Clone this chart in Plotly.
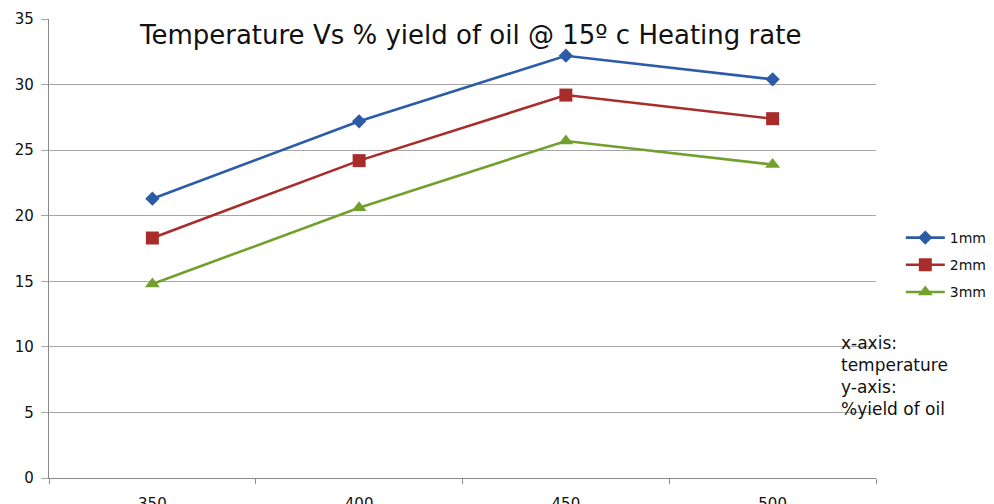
import plotly.graph_objects as go

temps = ["350", "400", "450", "500"]
yield_1mm = [21.3, 27.2, 32.2, 30.4]
yield_2mm = [18.3, 24.2, 29.2, 27.4]
yield_3mm = [14.8, 20.6, 25.7, 23.9]
series_names = ["1mm", "2mm", "3mm"]
y_ticks = [0, 5, 10, 15, 20, 25, 30, 35]

colors = ["#2C5BA8", "#A82C2A", "#72A02E"]
symbols = ["diamond", "square", "triangle-up"]
sizes = [11, 13, 13]

FONT = "DejaVu Sans"

fig = go.Figure()
for name, vals, c, s, sz in zip(series_names, [yield_1mm, yield_2mm, yield_3mm], colors, symbols, sizes):
    fig.add_trace(go.Scatter(
        x=temps, y=vals, name=name, mode="lines+markers",
        line=dict(color=c, width=2.6),
        marker=dict(symbol=s, size=sz, color=c),
        legendgroup=name,
    ))

fig.update_layout(
    width=994, height=504,
    margin=dict(l=49, r=118, t=19, b=26, autoexpand=False),
    paper_bgcolor="white", plot_bgcolor="white",
    font=dict(family=FONT, size=15, color="#111111"),
    title=dict(text="Temperature Vs % yield of oil @ 15º c Heating rate",
               x=0.4735, xanchor="center", y=1 - 35 / 504, yanchor="middle",
               font=dict(family=FONT, size=26, color="#111111")),
    showlegend=True,
    legend=dict(x=1.03, xanchor="left", y=(478 - 222) / 459, yanchor="top",
                yref="paper", font=dict(size=14), tracegroupgap=6,
                bgcolor="rgba(0,0,0,0)", itemwidth=39),
    xaxis=dict(type="category", showgrid=False, showline=True, linecolor="#8a8a8a",
               linewidth=1.3, ticks="outside", tickson="boundaries", ticklen=5,
               tickcolor="#8a8a8a", ticklabelstandoff=12, range=[-0.5, 3.5],
               tickfont=dict(size=15), automargin=False),
    yaxis=dict(range=[0, 35], tickvals=y_ticks, showgrid=True, gridcolor="#a6a6a6",
               gridwidth=1.3, showline=True, linecolor="#8a8a8a", linewidth=1.3,
               ticks="outside", ticklen=7, tickcolor="#a6a6a6", zeroline=False,
               tickfont=dict(size=15), ticklabelstandoff=4, automargin=False),
)

fig.add_annotation(
    text="x-axis:<br>temperature<br>y-axis:<br>%yield of oil",
    xref="paper", yref="paper", x=(839 - 49) / 827, y=(478 - 331) / 459,
    xanchor="left", yanchor="top", align="left", showarrow=False,
    font=dict(size=17, family=FONT),
)

fig.write_html(
    "out.html",
    config={"displayModeBar": False},
    post_script="document.body.style.margin='0';document.body.style.overflow='hidden';",
)
